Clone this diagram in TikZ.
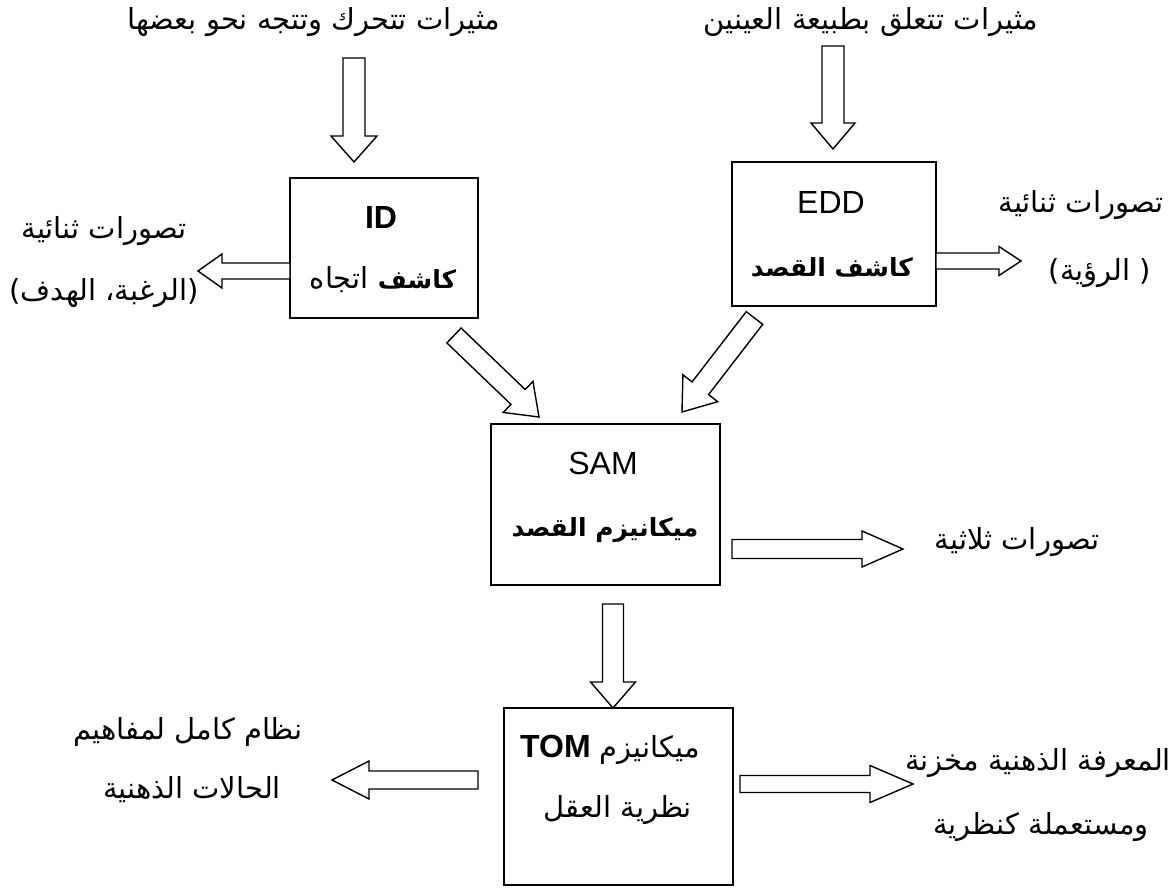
\documentclass[tikz,border=0pt]{standalone}
\usepackage{fontspec}
\setmainfont{Liberation Sans}
\newfontfamily\arabicfont[Script=Arabic]{DejaVu Sans}
\TeXXeTstate=1
\usetikzlibrary{calc}

% arabic line, right to left
\newcommand{\ar}[1]{{\arabicfont\beginR #1\endR}}
% bold arabic words (DejaVu bold runs wide)
\newcommand{\bd}[1]{{\fontsize{12.5}{15}\selectfont\bfseries #1}}
% block arrow: from, to, half shaft, half head, head length (all in px)
\newcommand{\barr}[5]{%
  \coordinate (hb) at ($(#2)!#5*0.5pt!(#1)$);
  \draw[blk] ($(#1)!#3*0.5pt!-90:(#2)$) -- ($(hb)!#3*0.5pt!-90:(#2)$)
    -- ($(hb)!#4*0.5pt!-90:(#2)$) -- (#2) -- ($(hb)!#4*0.5pt!90:(#2)$)
    -- ($(hb)!#3*0.5pt!90:(#2)$) -- ($(#1)!#3*0.5pt!90:(#2)$) -- cycle;}

\tikzset{
  box/.style={draw, line width=1pt, inner sep=0pt},
  blk/.style={draw, line width=0.7pt, fill=white, line join=miter},
  lat/.style={font=\fontsize{16}{19}\selectfont, inner sep=0pt},
  txt/.style={font=\fontsize{14.5}{17}\selectfont, inner sep=0pt}
}

\begin{document}
\begin{tikzpicture}[x=0.5pt, y=-0.5pt]
\useasboundingbox (0,0) rectangle (1174,888);

% inputs
\node[txt] (stimmove) at (314,22) {\ar{مثيرات تتحرك وتتجه نحو بعضها}};
\node[txt] (stimeye) at (871,22) {\ar{مثيرات تتعلق بطبيعة العينين}};

% the four modules
\node[box, minimum width=94pt, minimum height=70pt] (id) at (384,248) {};
\node[box, minimum width=102pt, minimum height=72pt] (edd) at (834,234) {};
\node[box, minimum width=114.5pt, minimum height=80.5pt] (sam) at (605.5,504.5) {};
\node[box, minimum width=114.5pt, minimum height=88.5pt] (tom) at (618.5,796.5) {};

\node[lat] (id1) at (381,217) {\textbf{ID}};
\node[txt] (id2) at (383,280) {\ar{\bd{كاشف} اتجاه}};
\node[lat] (edd1) at (831,202) {EDD};
\node[txt] (edd2) at (832,267) {\ar{\bd{كاشف القصد}}};
\node[lat] (sam1) at (603,463) {SAM};
\node[txt] (sam2) at (605,530) {\ar{\bd{ميكانيزم القصد}}};
\node[txt] (tom1) at (610,750) {\ar{ميكانيزم \beginL\fontsize{16}{19}\fontspec{Liberation Sans}\textbf{TOM}\endL}};
\node[txt] (tom2) at (618,810) {\ar{نظرية العقل}};

% outputs
\node[txt] (dyad1a) at (104,231) {\ar{تصورات ثنائية}};
\node[txt] (dyad1b) at (104,293) {\ar{(الرغبة، الهدف)}};
\node[txt] (dyad2a) at (1081,205) {\ar{تصورات ثنائية}};
\node[txt] (dyad2b) at (1100,273) {\ar{( الرؤية)}};
\node[txt] (triad) at (1017,542) {\ar{تصورات ثلاثية}};
\node[txt] (sys1) at (188,732) {\ar{نظام كامل لمفاهيم}};
\node[txt] (sys2) at (192,790) {\ar{الحالات الذهنية}};
\node[txt] (know1) at (1038,763) {\ar{المعرفة الذهنية مخزنة}};
\node[txt] (know2) at (1041,827) {\ar{ومستعملة كنظرية}};

% arrow ends
\coordinate (a1) at (354,58);   \coordinate (b1) at (354,162);
\coordinate (a2) at (833,46);   \coordinate (b2) at (833,149);
\coordinate (a3) at (290,271);  \coordinate (b3) at (198,271);
\coordinate (a4) at (936,261);  \coordinate (b4) at (1021,261);
\coordinate (a5) at (454,335.5); \coordinate (b5) at (539,417);
\coordinate (a6) at (754.5,318); \coordinate (b6) at (682,412);
\coordinate (a7) at (732,549);  \coordinate (b7) at (903,549);
\coordinate (a8) at (613,604);  \coordinate (b8) at (613,708);
\coordinate (a9) at (478,780);  \coordinate (b9) at (332,780);
\coordinate (a10) at (740,784); \coordinate (b10) at (913,784);

\barr{a1}{b1}{11}{23}{26}
\barr{a2}{b2}{11}{22}{26}
\barr{a3}{b3}{8}{17}{24}
\barr{a4}{b4}{8}{14.5}{22}
\barr{a5}{b5}{10.3}{21.5}{29}
\barr{a6}{b6}{10.4}{22}{30}
\barr{a7}{b7}{9.5}{18}{41}
\barr{a8}{b8}{10.5}{22.5}{26}
\barr{a9}{b9}{9}{19}{37}
\barr{a10}{b10}{8.5}{18.5}{43}
\end{tikzpicture}
\end{document}
